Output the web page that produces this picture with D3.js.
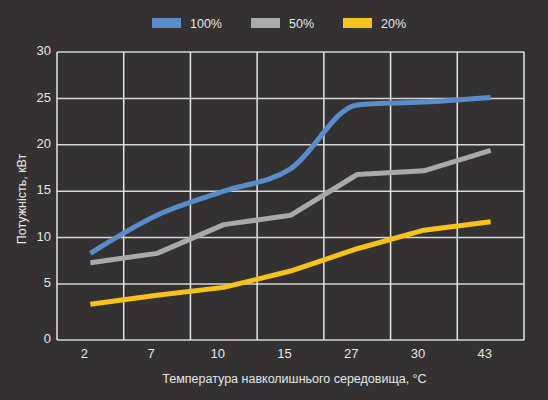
<!DOCTYPE html>
<html>
<head>
<meta charset="utf-8">
<script src="https://cdn.jsdelivr.net/npm/d3@7"></script>
<style>
  html, body { margin: 0; padding: 0; background: #333131; }
  svg { display: block; }
  text { font-family: "Liberation Sans", Arial, sans-serif; fill: #e6e6e6; }
</style>
</head>
<body>
<svg id="chart" width="548" height="400"></svg>
<script>
// ---- data ----
const categories = ["2", "7", "10", "15", "27", "30", "43"];
const seriesNames = ["100%", "50%", "20%"];
const values100 = [8.3, 12.4, 15.0, 17.4, 24.3, 24.6, 25.1];
const values50  = [7.3, 8.3, 11.4, 12.4, 16.8, 17.2, 19.4];
const values20  = [3.2, 4.0, 4.7, 6.4, 8.8, 10.8, 11.7];
const yTicks = [0, 5, 10, 15, 20, 25, 30];
const yTitle = "Потужність, кВт";
const xTitle = "Температура навколишнього середовища, °C";

const colors = ["#5b8cca", "#a9a9a9", "#f6c21c"];
const series = [
  { name: seriesNames[0], values: values100, color: colors[0], curve: d3.curveMonotoneX },
  { name: seriesNames[1], values: values50,  color: colors[1], curve: d3.curveLinear },
  { name: seriesNames[2], values: values20,  color: colors[2], curve: d3.curveLinear }
];

const svg = d3.select("#chart");
const pLeft = 57, pRight = 524, pTop = 52, pBottom = 340;

const x = d3.scaleBand().domain(categories).range([pLeft, pRight]).padding(0);
const y = d3.scaleLinear().domain([0, 5, 30]).range([pBottom, 284, pTop]);

// background
svg.append("rect").attr("width", 548).attr("height", 400).attr("fill", "#333131");

// grid
const grid = svg.append("g");
grid.selectAll("line.h").data(yTicks).join("line")
  .attr("x1", pLeft).attr("x2", pRight)
  .attr("y1", d => y(d)).attr("y2", d => y(d))
  .attr("stroke", "#d6d6d6").attr("stroke-width", 1.5);
const vEdges = categories.map(c => x(c)).concat([x(categories[categories.length - 1]) + x.bandwidth()]);
grid.selectAll("line.v").data(vEdges).join("line")
  .attr("x1", d => d).attr("x2", d => d)
  .attr("y1", pTop).attr("y2", pBottom)
  .attr("stroke", "#e6e6e6").attr("stroke-width", 1.5);

// y axis labels
const yAxis = d3.axisLeft(y).tickValues(yTicks).tickSize(0).tickPadding(6);
const yg = svg.append("g").attr("transform", `translate(${pLeft},0)`).call(yAxis);
yg.select(".domain").remove();
yg.selectAll("text").attr("font-size", 13).attr("fill", "#e6e6e6")
  .attr("font-family", "Liberation Sans, Arial, sans-serif").attr("dy", "0.2em");

// x axis labels
const xAxis = d3.axisBottom(x).tickSize(0).tickPadding(9);
const xg = svg.append("g").attr("transform", `translate(-6,${pBottom})`).call(xAxis);
xg.select(".domain").remove();
xg.selectAll("text").attr("font-size", 13).attr("fill", "#e6e6e6")
  .attr("font-family", "Liberation Sans, Arial, sans-serif");

// lines
series.forEach(s => {
  const line = d3.line()
    .x((d, i) => x(categories[i]) + x.bandwidth() / 2)
    .y(d => y(d))
    .curve(s.curve);
  svg.append("path").datum(s.values)
    .attr("d", line)
    .attr("fill", "none")
    .attr("stroke", s.color)
    .attr("stroke-width", 5)
    .attr("stroke-linejoin", "round");
});

// titles
svg.append("text")
  .attr("transform", `translate(26,${(pTop + pBottom) / 2 + 3}) rotate(-90)`)
  .attr("text-anchor", "middle")
  .attr("font-size", 12.5)
  .text(yTitle);
svg.append("text")
  .attr("x", (pLeft + pRight) / 2 + 4).attr("y", 383)
  .attr("text-anchor", "middle")
  .attr("font-size", 12.5)
  .text(xTitle);

// legend
const legendX = [152, 251, 343];
const lg = svg.append("g");
series.forEach((s, i) => {
  lg.append("rect").attr("x", legendX[i]).attr("y", 18).attr("width", 29).attr("height", 10)
    .attr("fill", s.color);
  lg.append("text").attr("x", legendX[i] + 38).attr("y", 27.5)
    .attr("font-size", 12.5).text(s.name);
});
</script>
</body>
</html>
